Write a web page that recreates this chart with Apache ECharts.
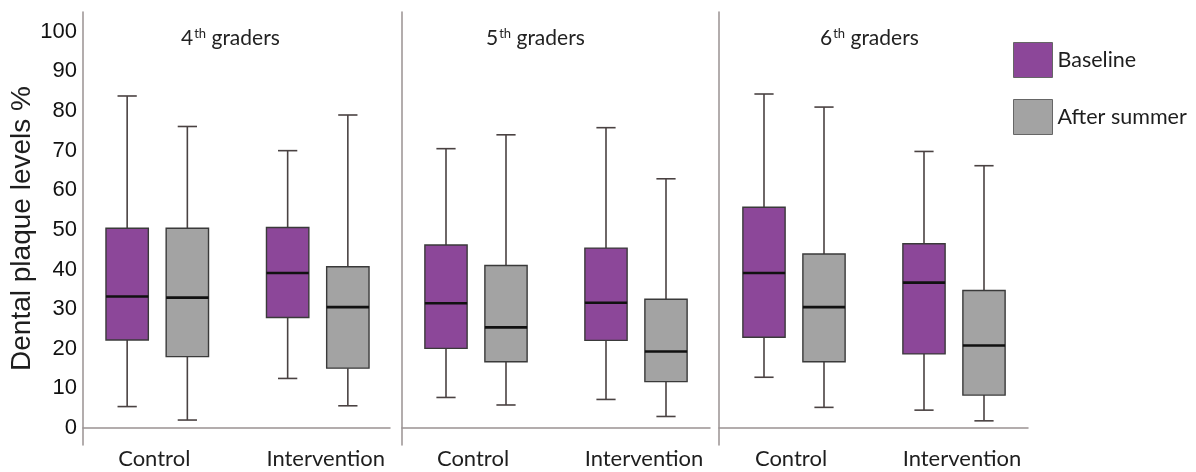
<!DOCTYPE html>
<html>
<head>
<meta charset="utf-8">
<script src="https://cdn.jsdelivr.net/npm/echarts@6/dist/echarts.min.js"></script>
<style>
html,body{margin:0;padding:0;background:#fff;}
#chart{width:1196px;height:472px;}
</style>
</head>
<body>
<div id="chart"></div>
<script>
// ---- data ----
const categories = ['Control', 'Intervention'];
const gradeNumbers = ['4', '5', '6'];
const yTickValues = [0, 10, 20, 30, 40, 50, 60, 70, 80, 90, 100];
// each box: [min, Q1, median, Q3, max]
const baseline4 = [[5.4, 22.2, 33.2, 50.4, 83.8], [12.5, 27.9, 39.1, 50.6, 70.0]];
const after4    = [[2.0, 18.0, 32.9, 50.4, 76.1], [5.6, 15.1, 30.5, 40.7, 79.0]];
const baseline5 = [[7.7, 20.1, 31.5, 46.2, 70.5], [7.2, 22.1, 31.6, 45.4, 75.8]];
const after5    = [[5.8, 16.7, 25.4, 41.0, 74.0], [2.9, 11.7, 19.3, 32.5, 62.9]];
const baseline6 = [[12.8, 22.9, 39.1, 55.7, 84.3], [4.5, 18.7, 36.7, 46.5, 69.8]];
const after6    = [[5.2, 16.7, 30.5, 43.9, 81.0], [1.8, 8.3, 20.8, 34.7, 66.2]];

const baselineByGrade = [baseline4, baseline5, baseline6];
const afterByGrade = [after4, after5, after6];

// ---- styling ----
const PURPLE = '#8c4799';
const GRAY = '#a3a3a3';
const AXIS = '#9a9292';
const WHISK = '#4a4242';
const Y_MIN = -4.3, Y_MAX = 105;

const boxGrids = [{left: 77, width: 321}, {left: 396, width: 320}, {left: 714, width: 320}];
const frameGrids = [{left: 83, width: 307}, {left: 402, width: 308}, {left: 719, width: 309}];
const titleLefts = [176, 481, 815];

function makeRender(color, offsetFrac) {
  return function (params, api) {
    const xi = api.value(0);
    const mn = api.value(1), q1 = api.value(2), md = api.value(3), q3 = api.value(4), mx = api.value(5);
    const bw = api.size([1, 0])[0];           // band width of one category
    const cx = api.coord([xi, md])[0] + offsetFrac * bw;
    const half = bw * 0.132;
    const cap = bw * 0.06;
    const Y = v => api.coord([xi, v])[1];
    const lineStyle = {stroke: WHISK, lineWidth: 1.6};
    return {
      type: 'group',
      children: [
        {type: 'line', shape: {x1: cx, y1: Y(mx), x2: cx, y2: Y(q3)}, style: lineStyle},
        {type: 'line', shape: {x1: cx, y1: Y(q1), x2: cx, y2: Y(mn)}, style: lineStyle},
        {type: 'line', shape: {x1: cx - cap, y1: Y(mx), x2: cx + cap, y2: Y(mx)}, style: lineStyle},
        {type: 'line', shape: {x1: cx - cap, y1: Y(mn), x2: cx + cap, y2: Y(mn)}, style: lineStyle},
        {type: 'rect', shape: {x: cx - half, y: Y(q3), width: 2 * half, height: Y(q1) - Y(q3)},
          style: {fill: color, stroke: '#3a3a3a', lineWidth: 1.4}},
        {type: 'line', shape: {x1: cx - half, y1: Y(md), x2: cx + half, y2: Y(md)},
          style: {stroke: '#111', lineWidth: 2.6}}
      ]
    };
  };
}

const grid = [], xAxis = [], yAxis = [], series = [], title = [];
for (let p = 0; p < 3; p++) {
  // box grid (index 2p)
  grid.push({left: boxGrids[p].left, width: boxGrids[p].width, top: 12, bottom: 27});
  xAxis.push({
    type: 'category', gridIndex: 2 * p, data: categories, boundaryGap: true,
    axisLine: {show: false}, axisTick: {show: false},
    axisLabel: {
      interval: 0, hideOverlap: false,
      margin: 3, fontFamily: 'Lato', fontSize: 22, color: '#1e1e1e',
      formatter: v => v === 'Intervention' ? '{i|' + v + '}' : '{c|' + v + '}',
      rich: {
        c: {fontFamily: 'Lato', fontSize: 22, color: '#1e1e1e', padding: [0, 6, 0, 0]},
        i: {fontFamily: 'Lato', fontSize: 22, color: '#1e1e1e', padding: [0, 0, 0, 16]}
      }
    }
  });
  yAxis.push({type: 'value', gridIndex: 2 * p, min: Y_MIN, max: Y_MAX, show: false, splitLine: {show: false}});
  // frame grid (index 2p+1)
  grid.push({left: frameGrids[p].left, width: frameGrids[p].width, top: 12, bottom: 27});
  xAxis.push({
    type: 'category', gridIndex: 2 * p + 1, data: categories,
    axisLine: {show: true, lineStyle: {color: AXIS, width: 1.5}},
    axisTick: {show: false}, axisLabel: {show: false}
  });
  const yA = {
    type: 'value', gridIndex: 2 * p + 1, min: Y_MIN, max: Y_MAX,
    axisLine: {show: true, lineStyle: {color: AXIS, width: 1.5}},
    axisTick: {show: false}, splitLine: {show: false},
    axisLabel: {show: false}
  };
  if (p === 0) {
    yA.axisLabel = {
      show: true, customValues: yTickValues, margin: 6,
      fontFamily: 'Liberation Sans', fontSize: 22, color: '#111'
    };
    yA.name = 'Dental plaque levels %';
    yA.nameLocation = 'middle';
    yA.nameGap = 44;
    yA.nameTextStyle = {fontFamily: 'Liberation Sans', fontSize: 28, color: '#1e1e1e'};
  }
  yAxis.push(yA);

  const toData = arr => arr.map((b, i) => [i].concat(b));
  series.push({
    type: 'custom', name: 'Baseline', xAxisIndex: 2 * p, yAxisIndex: 2 * p,
    itemStyle: {color: PURPLE},
    encode: {x: 0, y: [1, 2, 3, 4, 5]},
    renderItem: makeRender(PURPLE, -0.1875),
    data: toData(baselineByGrade[p])
  });
  series.push({
    type: 'custom', name: 'After summer', xAxisIndex: 2 * p, yAxisIndex: 2 * p,
    itemStyle: {color: GRAY},
    encode: {x: 0, y: [1, 2, 3, 4, 5]},
    renderItem: makeRender(GRAY, 0.1875),
    data: toData(afterByGrade[p])
  });

  title.push({
    text: '{n|' + gradeNumbers[p] + '}{s|th}{g| graders}',
    left: titleLefts[p], top: 22,
    textStyle: {
      fontWeight: 'normal',
      rich: {
        n: {fontFamily: 'Lato', fontSize: 21, fontWeight: 'normal', color: '#222'},
        s: {fontFamily: 'Lato', fontSize: 13, fontWeight: 'normal', color: '#222', padding: [0, 0, 10, 1]},
        g: {fontFamily: 'Lato', fontSize: 21, fontWeight: 'normal', color: '#222'}
      }
    }
  });
}

const chart = echarts.init(document.getElementById('chart'), null, {renderer: 'canvas'});
chart.setOption({
  animation: false,
  backgroundColor: '#fff',
  title: title,
  legend: {
    orient: 'vertical', left: 1008, top: 37,
    itemWidth: 39, itemHeight: 35, itemGap: 21, icon: 'rect',
    itemStyle: {borderColor: '#666', borderWidth: 1},
    textStyle: {fontFamily: 'Lato', fontSize: 21.5, color: '#1e1e1e'},
    data: ['Baseline', 'After summer']
  },
  grid: grid,
  xAxis: xAxis,
  yAxis: yAxis,
  series: series
});
</script>
</body>
</html>
